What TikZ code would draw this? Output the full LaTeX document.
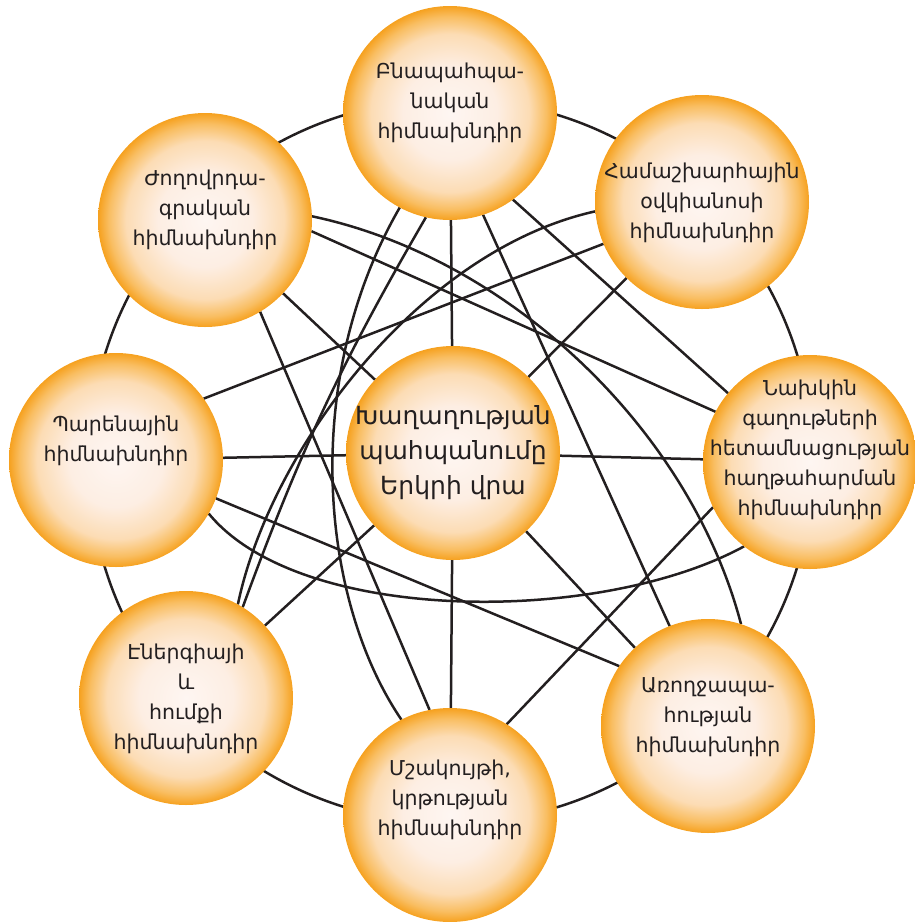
\documentclass[tikz,border=0pt]{standalone}
\usepackage{fontspec}
\setmainfont{DejaVu Sans}
\definecolor{ink}{HTML}{231F20}
\definecolor{ballin}{HTML}{FEF6F2}
\definecolor{ballmid}{HTML}{FDEEE3}
\definecolor{balllight}{HTML}{FCDCB4}
\definecolor{ballo2}{HTML}{F9BE62}
\definecolor{ballout}{HTML}{F6A11F}
\pgfdeclareradialshading{ballshade}{\pgfpoint{0bp}{0bp}}{color(0bp)=(ballin); color(11bp)=(ballmid); color(18.5bp)=(balllight); color(22.5bp)=(ballo2); color(25bp)=(ballout); color(50bp)=(ballout)}
\pgfdeclarelayer{bg}
\pgfsetlayers{bg,main}
\tikzset{
  ball/.style={circle, minimum size=214pt, inner sep=0pt, outer sep=0pt, shading=ballshade, draw=none},
  txt/.style={align=center, text=ink, inner sep=0pt, font=\fontsize{20.5}{30}\selectfont},
  bigtxt/.style={align=center, text=ink, inner sep=0pt, font=\fontsize{25}{35}\selectfont},
  conn/.style={draw=ink, line width=2.5pt}
}
\begin{document}
\begin{tikzpicture}[x=1pt,y=-1pt]
\useasboundingbox (0,0) rectangle (915,922);
% nodes
\node[ball] (c)  at (453,453) {};
\node[ball] (t)  at (450,113) {};
\node[ball] (tr) at (702,202) {};
\node[ball] (r)  at (810,462) {};
\node[ball] (br) at (708,726) {};
\node[ball] (b)  at (450,815) {};
\node[ball] (bl) at (186,698) {};
\node[ball] (l)  at (116,460) {};
\node[ball] (tl) at (205,220) {};
% texts
\node[bigtxt] (cT) at (453,453) {Խաղաղության\\պահպանումը\\Երկրի վրա};
\node[txt] (tT)  at (450,103) {Բնապահպա-\\նական\\հիմնախնդիր};
\node[txt] (trT) at (702,203) {Համաշխարհային\\օվկիանոսի\\հիմնախնդիր};
\node[txt] (rT)  at (810,450) {Նախկին\\գաղութների\\հետամնացության\\հաղթահարման\\հիմնախնդիր};
\node[txt] (brT) at (708,717) {Առողջապա-\\հության\\հիմնախնդիր};
\node[txt] (bT)  at (450,800) {Մշակույթի,\\կրթության\\հիմնախնդիր};
\node[txt] (blT) at (186,699) {Էներգիայի\\և\\հումքի\\հիմնախնդիր};
\node[txt] (lT)  at (116,441) {Պարենային\\հիմնախնդիր};
\node[txt] (tlT) at (205,210) {Ժողովրդա-\\գրական\\հիմնախնդիր};
\begin{pgfonlayer}{bg}
% outer ring
\draw[conn] (451,461) circle[radius=362];
% spokes
\foreach \n in {t,tr,r,br,b,bl,l,tl}{\draw[conn] (c) -- (\n);}
% chords
\draw[conn] (tl.-6.9) -- (r.152.7);
\draw[conn] (tl.2.6) .. controls (510,258) and (690,430) .. (br.72.7);
\draw[conn] (tl.-59.5) -- (b.101.5);
\draw[conn] (t.242.2) .. controls (300,380) and (320,600) .. (b.117.3);
\draw[conn] (t.257.4) to[bend right=5] (bl.58);
\draw[conn] (t.-54.1) -- (r.140.9);
\draw[conn] (t.-72.3) -- (br.111);
\draw[conn] (tr.185.4) .. controls (420,250) and (270,450) .. (bl.61.7);
\draw[conn] (tr.203.5) -- (l.35.3);
\draw[conn] (l.-21.4) -- (br.146.3);
\draw[conn] (l.-30.9) .. controls (300,625) and (600,625) .. (r.232.6);
\draw[conn] (b.58.5) -- (r.205.6);
\end{pgfonlayer}
\end{tikzpicture}
\end{document}
